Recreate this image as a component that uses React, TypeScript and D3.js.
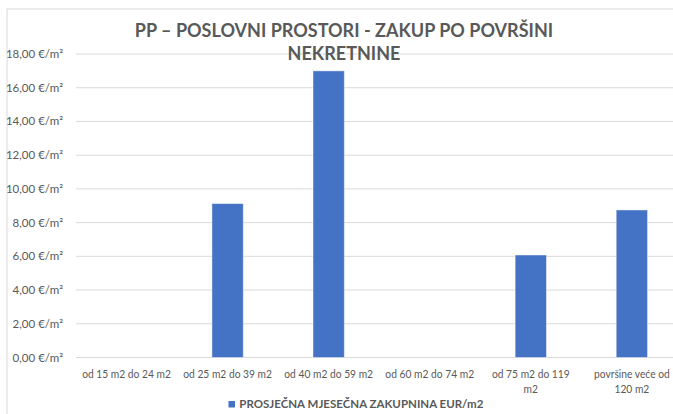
import React from "react";
import * as d3 from "d3";

// categories (line breaks follow the wrapping in the original)
const categories = [
  "od 15 m2 do 24 m2",
  "od 25 m2 do 39 m2",
  "od 40 m2 do 59 m2",
  "od 60 m2 do 74 m2",
  "od 75 m2 do 119\nm2",
  "površine veće od\n120 m2",
];
const rentValues = [0, 9.13, 17.0, 0, 6.08, 8.75];
const yTicks = [0, 2, 4, 6, 8, 10, 12, 14, 16, 18];
const titleLines = ["PP – POSLOVNI PROSTORI - ZAKUP PO POVRŠINI", "NEKRETNINE"];
const seriesName = "PROSJEČNA MJESEČNA ZAKUPNINA EUR/m2";

const FONT = "Lato, 'Open Sans', sans-serif";
const TEXT = "#595959";
const BAR = "#4472C4";
const GRID = "#d9d9d9";

const App = () => {
  const width = 673;
  const height = 414;

  const x = d3.scaleBand().domain(categories).range([76, 682.4]).paddingInner(0.69).paddingOuter(0.345);
  const y = d3.scaleLinear().domain([0, 18]).range([357.5, 54]);
  const fmt = (v) => d3.format(".2f")(v).replace(".", ",") + " €/m²";

  return (
    <svg
      width={width}
      height={height}
      style={{ position: "absolute", left: 0, top: 0, background: "#fff" }}
      fontFamily={FONT}
    >
      {/* chart frame */}
      <rect x={7} y={9} width={720} height={440} fill="#fff" stroke={GRID} />

      {/* gridlines + y labels */}
      {yTicks.map((t) => (
        <g key={t}>
          <line x1={76} x2={720} y1={y(t)} y2={y(t)} stroke={GRID} strokeWidth={1} />
          <text x={63} y={y(t) + 4} textAnchor="end" fontSize={11.5} fill={TEXT}>
            {fmt(t)}
          </text>
        </g>
      ))}

      {/* bars */}
      {categories.map((c, i) =>
        rentValues[i] > 0 ? (
          <rect
            key={c}
            x={x(c)}
            y={y(rentValues[i])}
            width={x.bandwidth()}
            height={y(0) - y(rentValues[i])}
            fill={BAR}
            stroke="#ffffff"
            strokeOpacity={0.45}
            strokeWidth={1}
          />
        ) : null
      )}

      {/* x labels, squeezed a little to match the narrow original face */}
      {categories.map((c) => (
        <g key={c} transform={`translate(${x(c) + x.bandwidth() / 2},0) scale(0.855,1)`}>
          <text textAnchor="middle" fontSize={12} fill={TEXT}>
            {c.split("\n").map((line, j) => (
              <tspan key={j} x={0} y={378.5 + j * 15}>
                {line}
              </tspan>
            ))}
          </text>
        </g>
      ))}

      {/* title */}
      {titleLines.map((line, j) => (
        <g key={j} transform={`translate(344,${37.3 + j * 22.7}) scale(0.925,1)`}>
          <text textAnchor="middle" fontSize={19.5} fontWeight="bold" fill={TEXT}>
            {line}
          </text>
        </g>
      ))}

      {/* legend */}
      <rect x={228.5} y={401} width={6.5} height={6.5} fill={BAR} />
      <text x={239.3} y={408.3} fontSize={11.5} fontWeight="bold" fill={TEXT}>
        {seriesName}
      </text>
    </svg>
  );
};

export default App;
